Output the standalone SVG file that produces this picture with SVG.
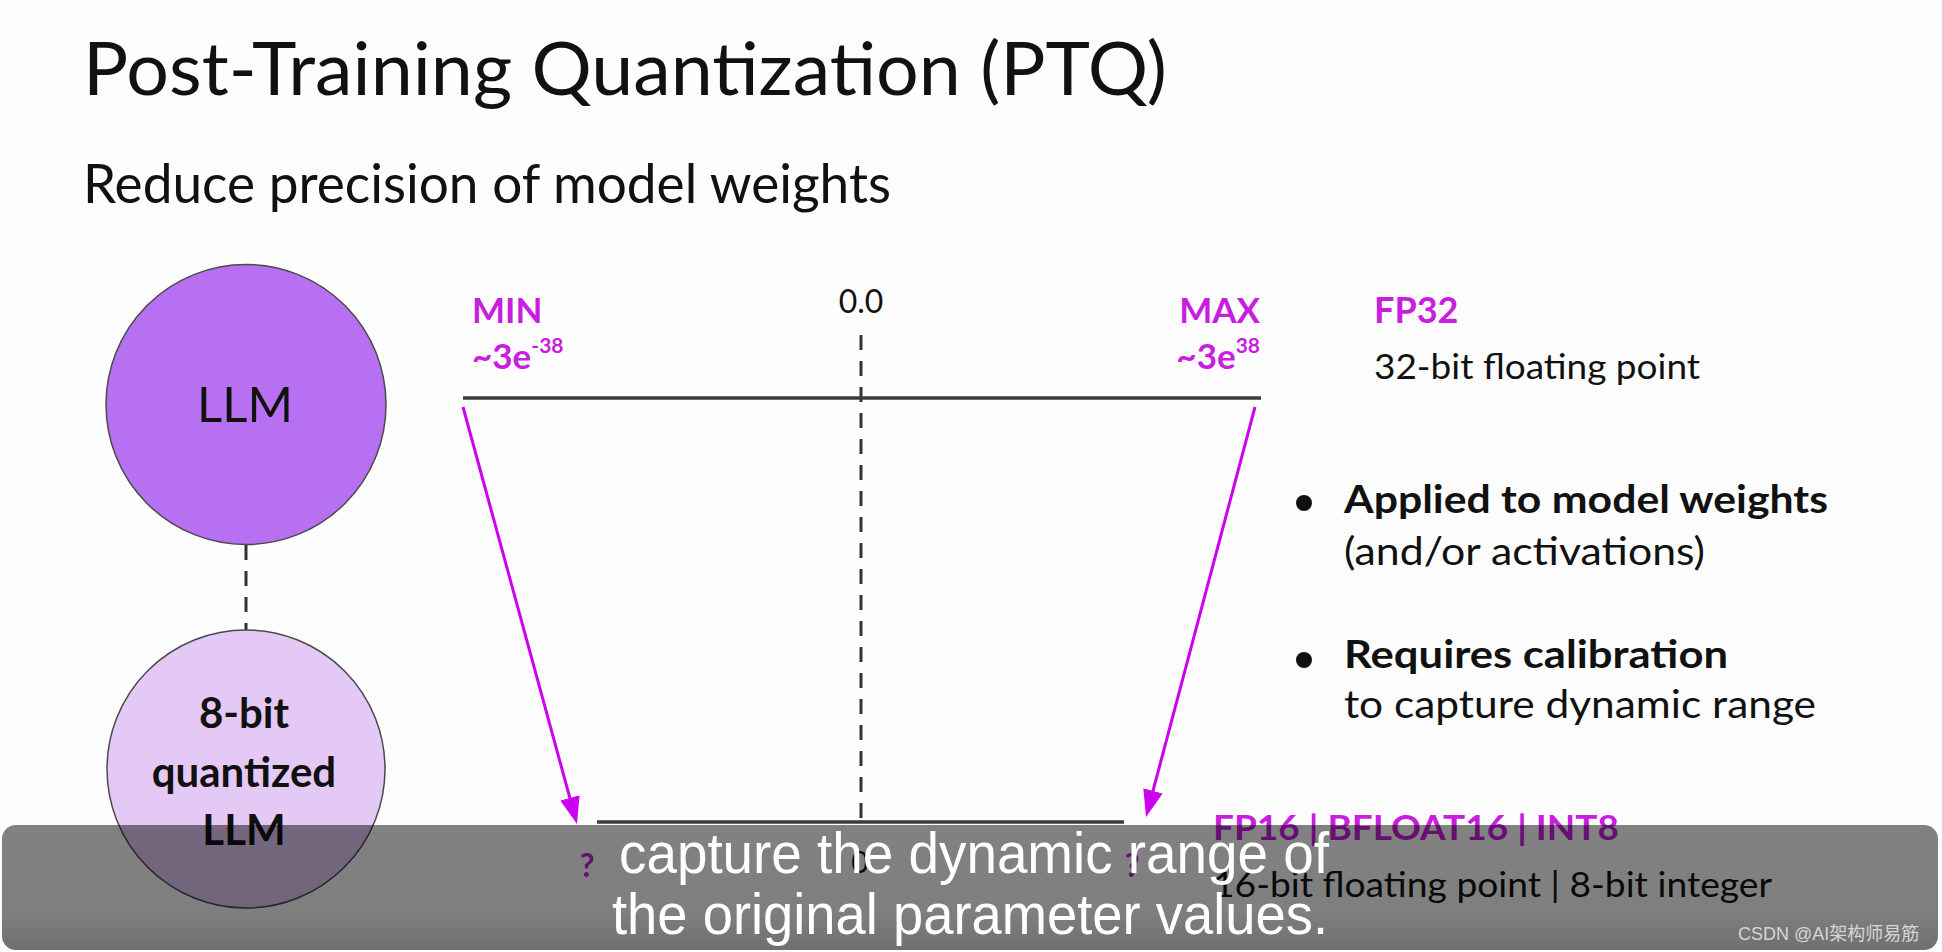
<svg xmlns="http://www.w3.org/2000/svg" width="1942" height="952" viewBox="0 0 1942 952">
<style>
.lato{font-family:Lato,"Noto Sans","Liberation Sans",sans-serif;}
.reg{font-family:Lato,"Noto Sans","Liberation Sans",sans-serif;font-weight:400;fill:#111;}
.bold{font-family:Lato,"Noto Sans","Liberation Sans",sans-serif;font-weight:700;fill:#111;}
.mag{font-family:Lato,"Noto Sans","Liberation Sans",sans-serif;font-weight:700;fill:#c81ede;}
.axis{stroke:#3c3c3c;stroke-width:3.5;fill:none;}
.dash{stroke:#333;stroke-width:3;stroke-dasharray:15 11;fill:none;}
.arrow{stroke:#cc00ee;stroke-width:3;fill:none;}
.cap{font-family:"Liberation Sans",Arial,sans-serif;fill:#fff;}
</style>
<defs>
<marker id="ah" markerUnits="userSpaceOnUse" markerWidth="28" markerHeight="22" refX="19" refY="10" orient="auto">
<path d="M0,0 L27,10 L0,20 z" fill="#cc00ee"/>
</marker>
<linearGradient id="capg" x1="0" y1="0" x2="0" y2="1">
<stop offset="0" stop-color="#000" stop-opacity="0.49"/>
<stop offset="0.7" stop-color="#000" stop-opacity="0.5"/>
<stop offset="1" stop-color="#000" stop-opacity="0.56"/>
</linearGradient>
</defs>
<rect x="0" y="0" width="1942" height="952" fill="#fdfdfd"/>

<g id="title">
<text class="reg" x="83" y="95" font-size="74" textLength="1084" lengthAdjust="spacingAndGlyphs">Post-Training Quantization (PTQ)</text>
<text class="reg" x="83" y="203" font-size="54" textLength="808" lengthAdjust="spacingAndGlyphs">Reduce precision of model weights</text>
</g>

<g id="connectors">
<line class="dash" x1="246" y1="545" x2="246" y2="630"/>
<line class="dash" x1="861" y1="335" x2="861" y2="828"/>
<line class="arrow" x1="463" y1="407" x2="574.9" y2="816.3" marker-end="url(#ah)"/>
<line class="arrow" x1="1255" y1="407" x2="1148.1" y2="809.3" marker-end="url(#ah)"/>
</g>

<g id="llm">
<circle cx="246" cy="404.5" r="140" fill="#b870f2" stroke="#4a4a4a" stroke-width="1.5"/>
<text class="reg" x="245" y="422" font-size="49" text-anchor="middle">LLM</text>
</g>

<g id="llm8">
<circle cx="246" cy="769" r="139" fill="#e4c8f6" stroke="#4a4a4a" stroke-width="1.5"/>
<text class="bold" x="244" y="728" font-size="42" text-anchor="middle">8-bit</text>
<text class="bold" x="244" y="787" font-size="42" text-anchor="middle">quantized</text>
<text class="bold" x="244" y="845" font-size="42" text-anchor="middle">LLM</text>
</g>

<g id="fp32-axis">
<line class="axis" x1="463" y1="398" x2="1261" y2="398"/>
<text class="reg" x="861" y="313" font-size="32" text-anchor="middle">0.0</text>
<text class="mag" x="472" y="323" font-size="35">MIN</text>
<text class="mag" x="472" y="369" font-size="35">~3e<tspan font-size="21" dy="-16">-38</tspan></text>
<text class="mag" x="1260" y="323" font-size="35" text-anchor="end">MAX</text>
<text class="mag" x="1260" y="369" font-size="35" text-anchor="end">~3e<tspan font-size="21" dy="-16">38</tspan></text>
</g>

<g id="fp32-label">
<text class="mag" x="1374" y="323" font-size="36">FP32</text>
<text class="reg" x="1374" y="379" font-size="35" textLength="326" lengthAdjust="spacingAndGlyphs">32-bit floating point</text>
</g>

<g id="bullets">
<circle cx="1304" cy="503" r="8" fill="#111"/>
<text class="bold" x="1344" y="513" font-size="39" textLength="484" lengthAdjust="spacingAndGlyphs">Applied to model weights</text>
<text class="reg" x="1344" y="565" font-size="39" textLength="361" lengthAdjust="spacingAndGlyphs">(and/or activations)</text>
<circle cx="1304" cy="660" r="8" fill="#111"/>
<text class="bold" x="1344" y="668" font-size="39" textLength="384" lengthAdjust="spacingAndGlyphs">Requires calibration</text>
<text class="reg" x="1344" y="718" font-size="39" textLength="472" lengthAdjust="spacingAndGlyphs">to capture dynamic range</text>
</g>

<g id="fp16-axis">
<line class="axis" x1="597" y1="822" x2="1124" y2="822"/>
<text class="reg" x="860" y="873" font-size="30" text-anchor="middle">0</text>
<text class="mag" x="587" y="877" font-size="32" text-anchor="middle">?</text>
<text class="mag" x="1132" y="877" font-size="32" text-anchor="middle">?</text>
</g>

<g id="fp16-label">
<text class="mag" x="1213" y="840" font-size="34" textLength="406" lengthAdjust="spacingAndGlyphs">FP16 | BFLOAT16 | INT8</text>
<text class="reg" x="1213" y="897" font-size="34" textLength="559" lengthAdjust="spacingAndGlyphs">16-bit floating point | 8-bit integer</text>
</g>

<g id="caption">
<rect x="2" y="825" width="1936" height="125" rx="14" fill="url(#capg)"/>
<text class="cap" x="974" y="873" font-size="57" text-anchor="middle" textLength="710" lengthAdjust="spacingAndGlyphs">capture the dynamic range of</text>
<text class="cap" x="970" y="934" font-size="57" text-anchor="middle" textLength="716" lengthAdjust="spacingAndGlyphs">the original parameter values.</text>
<text x="1738" y="940" font-size="18" fill="#d6d6d6" font-family="'Liberation Sans','Noto Sans CJK SC',sans-serif">CSDN @AI架构师易筋</text>
</g>
</svg>
